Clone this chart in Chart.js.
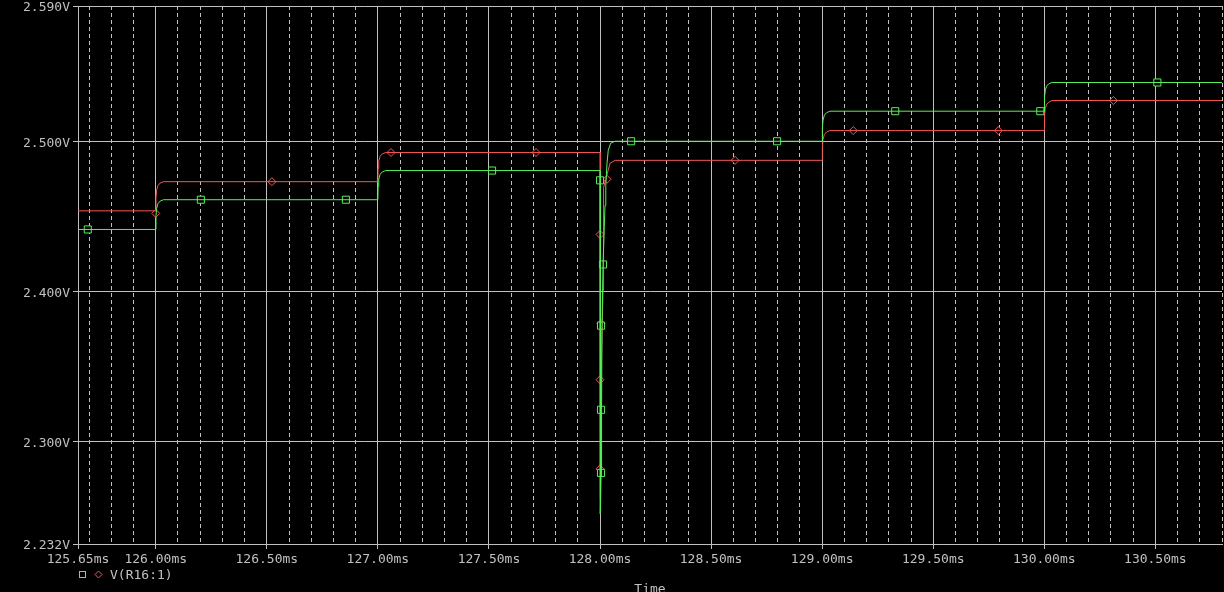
<!DOCTYPE html>
<html>
<head>
<meta charset="utf-8">
<title>V(R16:1)</title>
<script src="https://cdn.jsdelivr.net/npm/chart.js@4/dist/chart.umd.min.js"></script>
<style>
    html, body { margin: 0; padding: 0; background: #000; }
    #wrap { width: 1224px; height: 592px; }
</style>
</head>
<body>
<div id="wrap"><canvas id="chart" width="1224" height="592"></canvas></div>
<script>
// trace V(R16:1), two probes (square = green, diamond = red), time in ms, volts
const greenTime = [
    125.65, 126.000, 126.001, 126.004, 126.010, 126.020, 126.035,
    127.000, 127.001, 127.004, 127.010, 127.020, 127.035,
    128.000, 128.0015, 128.0045, 128.007, 128.009, 128.0135, 128.0225, 128.026, 128.0315, 128.037, 128.048, 128.068,
    129.000, 129.001, 129.004, 129.010, 129.020, 129.035,
    130.000, 130.001, 130.004, 130.010, 130.020, 130.035,
    130.80,
];
const greenVolts = [
    2.4413, 2.4413, 2.4505, 2.4553, 2.4585, 2.4602, 2.4611,
    2.4611, 2.4700, 2.4747, 2.4780, 2.4796, 2.4805,
    2.4805, 2.2520, 2.2773, 2.3213, 2.3773, 2.4180, 2.4573, 2.4707, 2.4853, 2.4940, 2.4987, 2.5000,
    2.5000, 2.5090, 2.5140, 2.5174, 2.5190, 2.5200,
    2.5200, 2.5290, 2.5335, 2.5366, 2.5382, 2.5391,
    2.5391,
];

const redTime = [
    125.65, 126.000, 126.001, 126.004, 126.010, 126.020, 126.035,
    127.000, 127.001, 127.004, 127.010, 127.020, 127.035,
    128.000, 128.002, 128.007, 128.0135, 128.016, 128.027, 128.045, 128.068,
    129.000, 129.001, 129.004, 129.010, 129.020, 129.035,
    130.000, 130.001, 130.004, 130.010, 130.020, 130.035,
    130.80,
];
const redVolts = [
    2.4537, 2.4537, 2.4627, 2.4675, 2.4705, 2.4722, 2.4731,
    2.4731, 2.4820, 2.4868, 2.4900, 2.4916, 2.4925,
    2.4925, 2.2627, 2.3573, 2.4007, 2.4693, 2.4753, 2.4853, 2.4873,
    2.4873, 2.4962, 2.5012, 2.5045, 2.5062, 2.5071,
    2.5071, 2.5171, 2.5216, 2.5243, 2.5260, 2.5271,
    2.5271,
];

// marker symbols sitting on the traces
const greenMarkTime = [125.694, 126.203, 126.856, 127.514, 128.000, 128.0045, 128.0045, 128.0045, 128.0135, 128.140, 128.797, 129.329, 129.982, 130.509];
const greenMarkVolts = [2.4413, 2.4611, 2.4611, 2.4805, 2.4740, 2.2793, 2.3213, 2.3773, 2.4180, 2.5000, 2.5000, 2.5200, 2.5200, 2.5391];
const redMarkTime = [126.000, 126.523, 127.059, 127.712, 128.000, 128.000, 128.000, 128.0045, 128.0315, 128.608, 129.140, 129.793, 130.311];
const redMarkVolts = [2.4520, 2.4731, 2.4925, 2.4925, 2.4380, 2.3413, 2.2820, 2.3787, 2.4747, 2.4873, 2.5071, 2.5071, 2.5271];

const xMajorTicks = [125.65, 126.0, 126.5, 127.0, 127.5, 128.0, 128.5, 129.0, 129.5, 130.0, 130.5];
const xTickLabels = ["125.65ms", "126.00ms", "126.50ms", "127.00ms", "127.50ms", "128.00ms", "128.50ms", "129.00ms", "129.50ms", "130.00ms", "130.50ms"];
const xMinorTicks = [
    125.7, 125.8, 125.9, 126.1, 126.2, 126.3, 126.4, 126.6, 126.7, 126.8, 126.9,
    127.1, 127.2, 127.3, 127.4, 127.6, 127.7, 127.8, 127.9,
    128.1, 128.2, 128.3, 128.4, 128.6, 128.7, 128.8, 128.9,
    129.1, 129.2, 129.3, 129.4, 129.6, 129.7, 129.8, 129.9,
    130.1, 130.2, 130.3, 130.4, 130.6, 130.7, 130.8,
];
const yTicks = [2.232, 2.3, 2.4, 2.5, 2.59];
const yTickLabels = ["2.232V", "2.300V", "2.400V", "2.500V", "2.590V"];
const legendLabel = "V(R16:1)";

const X_MIN = 125.65;
const X_MAX = 130.8;
const Y_MIN = 2.232;
const Y_MAX = 2.59;

const GREEN = "#58f058";
const RED = "#f25656";
const AXIS_COLOR = "#c0c0c0";
const FONT_FAMILY = "'DejaVu Sans Mono', 'Liberation Mono', monospace";

const toPoints = (times, volts) => times.map((t, i) => ({ x: t, y: volts[i] }));

const legendPlugin = {
    id: "probe-legend",
    afterDraw(chart) {
        const { ctx } = chart;
        ctx.save();
        ctx.lineWidth = 1;
        ctx.strokeStyle = GREEN;
        ctx.strokeRect(79.5, 571.5, 6, 6);
        ctx.strokeStyle = RED;
        ctx.beginPath();
        ctx.moveTo(98.5, 571);
        ctx.lineTo(102, 574.5);
        ctx.lineTo(98.5, 578);
        ctx.lineTo(95, 574.5);
        ctx.closePath();
        ctx.stroke();
        ctx.fillStyle = AXIS_COLOR;
        ctx.font = "13px " + FONT_FAMILY;
        ctx.textBaseline = "middle";
        ctx.textAlign = "left";
        ctx.fillText(legendLabel, 110, 575.5);
        ctx.restore();
    },
};

const tickFont = { family: FONT_FAMILY, size: 13, lineHeight: 1 };

new Chart(document.getElementById("chart"), {
    type: "line",
    data: {
        datasets: [
            {
                data: toPoints(greenTime, greenVolts),
                borderColor: GREEN,
                borderWidth: 1,
                pointRadius: 0,
            },
            {
                data: toPoints(redTime, redVolts),
                borderColor: RED,
                borderWidth: 1,
                pointRadius: 0,
            },
            {
                data: toPoints(greenMarkTime, greenMarkVolts),
                showLine: false,
                pointStyle: "rect",
                pointRadius: 5,
                pointBorderWidth: 1,
                pointBorderColor: GREEN,
                pointBackgroundColor: "#000",
            },
            {
                data: toPoints(redMarkTime, redMarkVolts),
                showLine: false,
                pointStyle: "rectRot",
                pointRadius: 4,
                pointBorderWidth: 1,
                pointBorderColor: RED,
                pointBackgroundColor: "#000",
            },
        ],
    },
    options: {
        responsive: false,
        animation: false,
        layout: { autoPadding: false, padding: { top: 6, right: 2, bottom: 0, left: 0 } },
        elements: { line: { tension: 0 } },
        plugins: {
            legend: { display: false },
            tooltip: { enabled: false },
        },
        scales: {
            x: {
                type: "linear",
                position: "bottom",
                min: X_MIN,
                max: X_MAX,
                afterBuildTicks: (scale) => {
                    scale.ticks = xMajorTicks.map((v) => ({ value: v }));
                },
                afterFit: (scale) => {
                    scale.height = 48;
                    scale.paddingLeft = 0;
                    scale.paddingRight = 0;
                },
                ticks: {
                    color: AXIS_COLOR,
                    font: tickFont,
                    padding: 4,
                    maxRotation: 0,
                    autoSkip: false,
                    callback: (value, index) => xTickLabels[index],
                },
                grid: {
                    color: AXIS_COLOR,
                    lineWidth: 1,
                    tickLength: 5,
                    tickColor: AXIS_COLOR,
                },
                border: { color: AXIS_COLOR },
                title: {
                    display: true,
                    text: "Time",
                    color: AXIS_COLOR,
                    font: tickFont,
                    padding: { top: 0, bottom: -4 },
                },
            },
            xMinor: {
                type: "linear",
                position: "top",
                min: X_MIN,
                max: X_MAX,
                afterBuildTicks: (scale) => {
                    scale.ticks = xMinorTicks.map((v) => ({ value: v }));
                },
                afterFit: (scale) => {
                    scale.height = 0;
                },
                ticks: { display: false },
                grid: { color: AXIS_COLOR, lineWidth: 1, drawTicks: false },
                border: { display: false, dash: [4, 3] },
            },
            y: {
                min: Y_MIN,
                max: Y_MAX,
                afterBuildTicks: (scale) => {
                    scale.ticks = yTicks.map((v) => ({ value: v }));
                },
                afterFit: (scale) => {
                    scale.width = 78;
                    scale.paddingTop = 0;
                    scale.paddingBottom = 0;
                },
                ticks: {
                    color: AXIS_COLOR,
                    font: tickFont,
                    padding: 3,
                    labelOffset: 2,
                    callback: (value, index) => yTickLabels[index],
                },
                grid: {
                    color: AXIS_COLOR,
                    lineWidth: 1,
                    tickLength: 5,
                    tickColor: AXIS_COLOR,
                },
                border: { color: AXIS_COLOR },
            },
        },
    },
    plugins: [legendPlugin],
});
</script>
</body>
</html>
